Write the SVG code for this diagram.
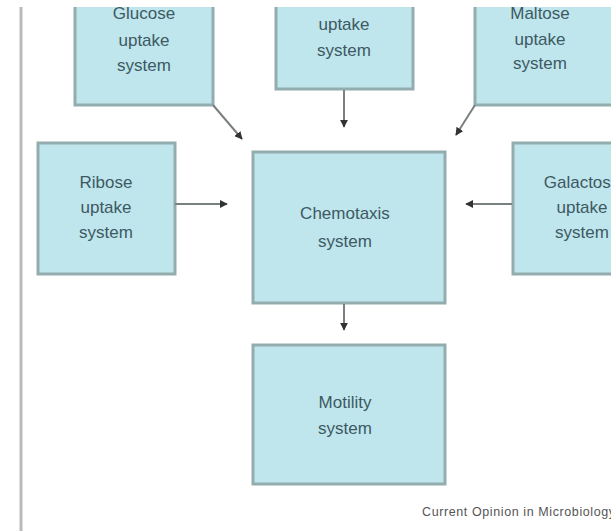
<svg xmlns="http://www.w3.org/2000/svg" width="611" height="531" viewBox="0 0 611 531">
<style>
.box{fill:#bfe6ec;stroke:#93acad;stroke-width:3}
.lbl{font-family:"Liberation Sans",Arial,sans-serif;font-size:17px;fill:#3d5963;text-anchor:middle}
.conn{stroke:#7a7f80;stroke-width:2;fill:none;marker-end:url(#ah)}
.cap{font-family:"Liberation Sans",Arial,sans-serif;font-size:12.5px;fill:#555;letter-spacing:0.6px}
</style>
<defs>
<marker id="ah" viewBox="0 0 10 10" refX="9" refY="5" markerWidth="4" markerHeight="4" orient="auto" markerUnits="strokeWidth">
<path d="M0,0 L10,5 L0,10 z" fill="#333"/>
</marker>
</defs>
<rect width="611" height="531" fill="#fff"/>
<line x1="21" y1="7" x2="21" y2="531" stroke="#bbbbbb" stroke-width="3"/>
<g id="glucose">
<rect class="box" x="75" y="-10" width="138" height="115"/>
<text class="lbl" x="144" y="19">Glucose</text>
<text class="lbl" x="144" y="46">uptake</text>
<text class="lbl" x="144" y="71">system</text>
</g>
<g id="middle-top">
<rect class="box" x="276" y="-10" width="137" height="99"/>
<text class="lbl" x="344" y="30">uptake</text>
<text class="lbl" x="344" y="56">system</text>
</g>
<g id="maltose">
<rect class="box" x="475" y="-10" width="140" height="115"/>
<text class="lbl" x="540" y="19">Maltose</text>
<text class="lbl" x="540" y="45">uptake</text>
<text class="lbl" x="540" y="69">system</text>
</g>
<g id="ribose">
<rect class="box" x="38" y="143" width="137" height="131"/>
<text class="lbl" x="106" y="188">Ribose</text>
<text class="lbl" x="106" y="213">uptake</text>
<text class="lbl" x="106" y="238">system</text>
</g>
<g id="chemotaxis">
<rect class="box" x="253" y="152" width="192" height="151"/>
<text class="lbl" x="345" y="219">Chemotaxis</text>
<text class="lbl" x="345" y="247">system</text>
</g>
<g id="galactose">
<rect class="box" x="513" y="143" width="140" height="131"/>
<text class="lbl" x="582" y="188">Galactose</text>
<text class="lbl" x="582" y="213">uptake</text>
<text class="lbl" x="582" y="238">system</text>
</g>
<g id="motility">
<rect class="box" x="253" y="345" width="192" height="139"/>
<text class="lbl" x="345" y="408">Motility</text>
<text class="lbl" x="345" y="434">system</text>
</g>
<rect x="0" y="0" width="611" height="7" fill="#fff"/>
<g id="connectors">
<line class="conn" x1="213" y1="105" x2="242" y2="139"/>
<line class="conn" x1="344" y1="90" x2="344" y2="127"/>
<line class="conn" x1="475" y1="105" x2="456" y2="135"/>
<line class="conn" x1="175" y1="204" x2="227" y2="204"/>
<line class="conn" x1="512" y1="204" x2="466" y2="204"/>
<line class="conn" x1="344" y1="304" x2="344" y2="330"/>
</g>
<text class="cap" x="422" y="516">Current Opinion in Microbiology</text>
</svg>
